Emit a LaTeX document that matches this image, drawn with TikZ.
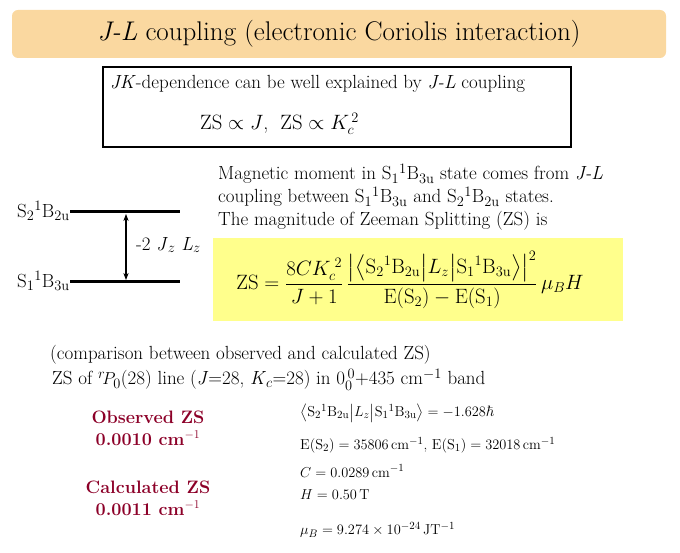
\documentclass[tikz,border=0pt]{standalone}
\usepackage{amsmath,amssymb}
\usetikzlibrary{arrows.meta}
\definecolor{titlefill}{RGB}{250,216,160}
\definecolor{eqfill}{RGB}{255,255,140}
\definecolor{zscol}{RGB}{140,0,40}
\begin{document}
\begin{tikzpicture}[x=1pt, y=-1pt,
    body/.style = {font=\fontsize{19}{23}\selectfont, inner sep=0pt},
    level/.style = {line width=3pt},
    val/.style = {body, anchor=west, font=\fontsize{15}{17}\selectfont},
    zslabel/.style = {body, text=zscol, font=\fontsize{18}{22}\selectfont\bfseries, align=center}]
    \useasboundingbox (0,0) rectangle (680,553);

    % title
    \node[fill=titlefill, rounded corners=6pt, minimum width=654pt, minimum height=48pt] (title) at (339,34)
        {\fontsize{27}{30}\selectfont \textit{J-L} coupling (electronic Coriolis interaction)};

    % dependence box
    \draw[line width=1.5pt] (103,67) rectangle (571,147);
    \node[body, anchor=west] (dep) at (110,84) {\textit{JK}-dependence can be well explained by \textit{J-L} coupling};
    \node[body, font=\fontsize{20}{22}\selectfont, anchor=west] (prop) at (200,124)
        {$\mathrm{ZS}\propto J$,\ \ $\mathrm{ZS}\propto K_c^{\,2}$};

    % energy levels
    \coordinate (s2a) at (70,212);  \coordinate (s2b) at (180,212);
    \coordinate (s1a) at (70,282);  \coordinate (s1b) at (180,282);
    \draw[level] (s2a) -- (s2b);
    \draw[level] (s1a) -- (s1b);
    \node[body, anchor=east] (s2) at (70,211) {S$_2$$^1$B$_{2\mathrm{u}}$};
    \node[body, anchor=east] (s1) at (70,281) {S$_1$$^1$B$_{3\mathrm{u}}$};
    \coordinate (ja) at (126,214); \coordinate (jb) at (126,280);
    \draw[line width=1.8pt, {Stealth[length=7pt]}-{Stealth[length=7pt]}] (ja) -- (jb);
    \node[body, anchor=west] (jl) at (136,245) {-2 \textit{J}$_z$ \textit{L}$_z$};

    % explanation
    \node[body, anchor=north west, align=left] (expl) at (218,164)
        {Magnetic moment in S$_1$$^1$B$_{3\mathrm{u}}$ state comes from \textit{J-L}\\
         coupling between S$_1$$^1$B$_{3\mathrm{u}}$ and S$_2$$^1$B$_{2\mathrm{u}}$ states.\\
         The magnitude of Zeeman Splitting (ZS) is};
    \fill[eqfill] (213,238) rectangle (623,321);
    \node[body, font=\fontsize{22}{24}\selectfont] (eq) at (410,280)
        {$\mathrm{ZS}=\dfrac{8CK_c^{\;2}}{J+1}\,
          \dfrac{\bigl|\bigl\langle \mathrm{S}_2{}^1\mathrm{B}_{2\mathrm{u}}\big|L_z\big|\mathrm{S}_1{}^1\mathrm{B}_{3\mathrm{u}}\bigr\rangle\bigr|^2}
                {\mathrm{E}(\mathrm{S}_2)-\mathrm{E}(\mathrm{S}_1)}\,\mu_B H$};

    % comparison
    \node[body, anchor=west] (cmp) at (50,355) {(comparison between observed and calculated ZS)};
    \node[body, anchor=west] (line) at (52,380)
        {ZS of $^r\!P_0$(28) line (\textit{J}=28, \textit{K}$_c$=28) in 0$_0^{\,0}$+435 cm$^{-1}$ band};
    \node[zslabel] (obs) at (148,428) {Observed ZS\\0.0010 cm$^{-1}$};
    \node[zslabel] (calc) at (148,498) {Calculated ZS\\0.0011 cm$^{-1}$};

    % values
    \node[val] (v1) at (300,413)
        {$\bigl\langle \mathrm{S}_2{}^1\mathrm{B}_{2\mathrm{u}}\big|L_z\big|\mathrm{S}_1{}^1\mathrm{B}_{3\mathrm{u}}\bigr\rangle=-1.628\hbar$};
    \node[val] (v2) at (300,445)
        {$\mathrm{E}(\mathrm{S}_2)=35806\,\mathrm{cm}^{-1}$,\ $\mathrm{E}(\mathrm{S}_1)=32018\,\mathrm{cm}^{-1}$};
    \node[val] (v3) at (300,471)
        {$C=0.0289\,\mathrm{cm}^{-1}$};
    \node[val] (v4) at (300,495)
        {$H=0.50\,\mathrm{T}$};
    \node[val] (v5) at (300,530)
        {$\mu_B=9.274\times10^{-24}\,\mathrm{JT}^{-1}$};
\end{tikzpicture}
\end{document}
